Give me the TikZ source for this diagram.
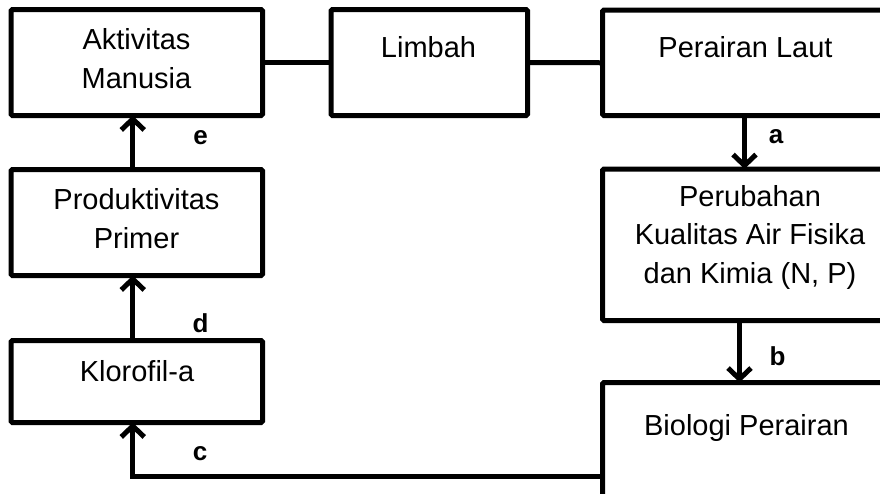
\documentclass[tikz,border=0pt]{standalone}
\usepackage{fontspec}
\setmainfont{Liberation Sans}
\usetikzlibrary{arrows.meta}
\begin{document}
\begin{tikzpicture}[x=1pt,y=-1pt,
  box/.style={draw, line width=5pt, rounded corners=1.5pt, inner sep=0pt},
  txt/.style={font=\fontsize{29}{38.5}\selectfont, align=center, anchor=base, inner sep=0pt},
  lbl/.style={font=\fontsize{26}{30}\selectfont\bfseries, anchor=base, inner sep=0pt},
  link/.style={line width=5pt},
  arr/.style={line width=5pt, shorten >=-2.5pt, -{Straight Barb[length=11pt,width=23pt]}}]
\useasboundingbox (0,0) rectangle (880,493);
\clip (0,0) rectangle (880,493);
% boxes
\node[box, minimum width=251.5pt, minimum height=106pt] (akt) at (136.75,62.5) {};
\node[box, minimum width=196.5pt, minimum height=106pt] (lim) at (429.25,62.5) {};
\node[box, minimum width=284pt, minimum height=105.5pt] (pl) at (744.5,62.75) {};
\node[box, minimum width=284pt, minimum height=151.5pt] (pb) at (744.5,244.75) {};
\node[box, minimum width=284pt, minimum height=187pt] (bio) at (744.5,476) {};
\node[box, minimum width=251.5pt, minimum height=106pt] (prod) at (136.75,222.5) {};
\node[box, minimum width=251.5pt, minimum height=82pt] (klo) at (136.75,381.5) {};
% texts
\node[txt] (takt) at (136.5,88) {Aktivitas\\Manusia};
\node[txt] (tlim) at (428.5,57) {Limbah};
\node[txt] (tpl) at (745.5,57) {Perairan Laut};
\node[txt] (tpb) at (750,283) {Perubahan\\Kualitas Air Fisika\\dan Kimia (N, P)};
\node[txt] (tbio) at (746.5,435) {Biologi Perairan};
\node[txt] (tprod) at (136.5,248) {Produktivitas\\Primer};
\node[txt] (tklo) at (137,381) {Klorofil-a};
% connectors
\draw[link] (akt.east) -- (lim.west);
\draw[link] (lim.east) -- (pl.west);
\draw[arr] (pl.south) -- (pb.north);
\draw[arr] ([xshift=-5pt]pb.south) -- ([xshift=-5pt]pb.south |- bio.north);
\draw[arr] (bio.west) -| ([xshift=-4pt]klo.south);
\draw[arr] ([xshift=-4pt]klo.north) -- ([xshift=-4pt]prod.south);
\draw[arr] ([xshift=-4pt]prod.north) -- ([xshift=-4pt]akt.south);
% labels
\node[lbl] (la) at (776,143) {a};
\node[lbl] (lb) at (777.5,365) {b};
\node[lbl] (lc) at (200,460) {c};
\node[lbl] (ld) at (200.5,332) {d};
\node[lbl] (le) at (200.5,144) {e};
\end{tikzpicture}
\end{document}
